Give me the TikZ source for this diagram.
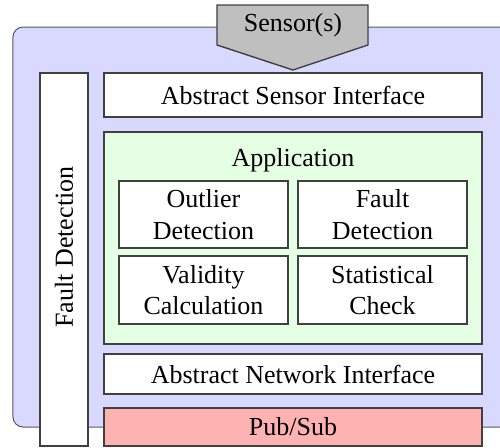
\documentclass[tikz,border=0pt]{standalone}
\usepackage{fontspec}
\setmainfont{Liberation Serif}
\begin{document}
\begin{tikzpicture}[x=0.5pt, y=-0.5pt,
    layerbox/.style={draw=black!75, line width=0.7pt, fill=white, inner sep=0pt, align=center},
    every node/.append style={font=\rmfamily\fontsize{13}{15.8}\selectfont}]
    \useasboundingbox (0,0) rectangle (500,447);

    % Node (outer frame)
    \draw [draw=black!65, line width=0.5pt, fill=blue!15, rounded corners=5pt] (510,27) -- (13,27) -- (13,427) -- (510,427);

    % Sensor(s)
    \draw [draw=black!75, line width=0.7pt, fill=black!25] (217,5) -- (368,5) -- (368,45) -- (293,70) -- (217,45) -- cycle;
    \node (sensor) at (293,25) {Sensor(s)};

    % Fault Detection (vertical)
    \node [layerbox, minimum width=24pt, minimum height=186.5pt] (fdbar) at (64,259.5) {};
    \node [rotate=90] (fdlabel) at (64,247) {Fault Detection};

    % Layers
    \node [layerbox, minimum width=189pt, minimum height=22pt] (asi) at (293,95) {Abstract Sensor Interface};

    \node [layerbox, fill=green!10, minimum width=189pt, minimum height=106pt] (app) at (293,238) {};
    \node (applabel) at (293,160) {Application};

    \node [layerbox, minimum width=84.5pt, minimum height=33.5pt] (outlier) at (203.5,214.5) {Outlier\\Detection};
    \node [layerbox, minimum width=84.5pt, minimum height=33.5pt] (fault) at (382.5,214.5) {Fault\\Detection};
    \node [layerbox, minimum width=84.5pt, minimum height=34pt] (validity) at (203.5,290) {Validity\\Calculation};
    \node [layerbox, minimum width=84.5pt, minimum height=34pt] (stat) at (382.5,290) {Statistical\\Check};

    \node [layerbox, minimum width=189pt, minimum height=20pt] (ani) at (293,374) {Abstract Network Interface};

    % Pub/Sub
    \node [layerbox, fill=red!30, minimum width=189pt, minimum height=19pt] (pubsub) at (293,427) {Pub/Sub};
\end{tikzpicture}
\end{document}
